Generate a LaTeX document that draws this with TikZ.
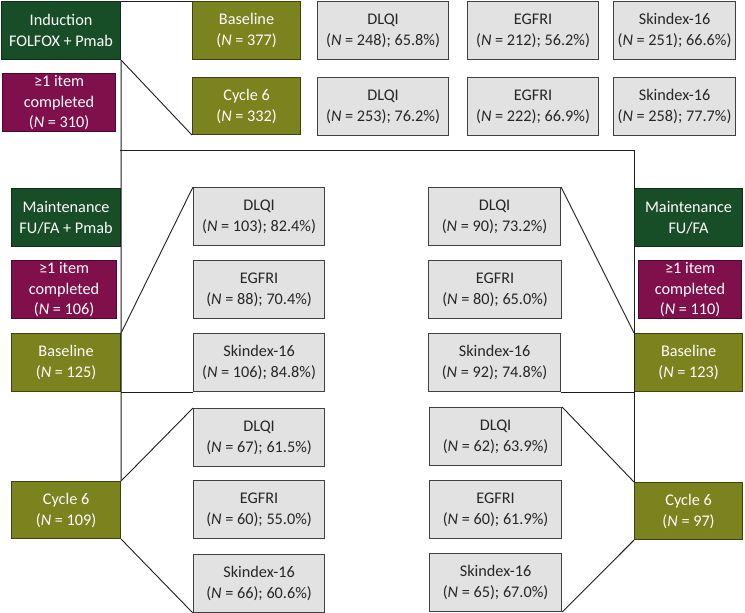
\documentclass[tikz,border=0pt]{standalone}
\usepackage{fontspec}
\setmainfont{Carlito}
\usepackage{tikz}
\usepackage{xcolor}
\usetikzlibrary{positioning, calc}
\definecolor{armgreen}{RGB}{24,78,39}
\definecolor{itempurple}{RGB}{128,16,76}
\definecolor{timeolive}{RGB}{122,131,30}
\definecolor{qgrey}{RGB}{226,226,226}
\definecolor{qborder}{RGB}{64,64,64}
\definecolor{qtext}{RGB}{38,38,38}
\definecolor{linecol}{RGB}{30,30,30}
\tikzset{
  basebox/.style={rectangle,draw,line width=1.1bp,anchor=north west,inner sep=0pt,align=center,
    font=\fontsize{16.3}{21}\selectfont,minimum height=58bp},
  armnode/.style={basebox,fill=armgreen,draw=armgreen!60!black,text=white},
  itemnode/.style={basebox,fill=itempurple,draw=itempurple!60!black,text=white,minimum width=105bp},
  timenode/.style={basebox,fill=timeolive,draw=timeolive!50!black,text=white},
  qnode/.style={basebox,fill=qgrey,draw=qborder,text=qtext,minimum width=131bp},
  zoomline/.style={linecol,line width=0.9bp},
}
\newcommand{\nn}[1]{(\textit{N}~=~#1)}

\begin{document}
\begin{tikzpicture}[x=1bp,y=-1bp]
  \useasboundingbox (0,0) rectangle (745,613);
  % Induction phase
  \node[armnode,minimum width=119bp,minimum height=58bp] (ind) at (1,1) {Induction\\FOLFOX + Pmab};
  \node[itemnode,minimum width=113bp] (itemI) at (2,73) {≥1 item\\completed\\\nn{310}};
  \node[timenode,minimum width=108bp] (baseI) at (192,1) {Baseline\\\nn{377}};
  \node[timenode,minimum width=108bp,minimum height=57bp] (cycI) at (192,77) {Cycle 6\\\nn{332}};
  \node[qnode] (dlqiIa) at (317,1) {DLQI\\\nn{248}; 65.8\%)};
  \node[qnode] (egfrIa) at (467,1) {EGFRI\\\nn{212}; 56.2\%)};
  \node[qnode,minimum width=122bp] (skinIa) at (613,1) {Skindex-16\\\nn{251}; 66.6\%)};
  \node[qnode] (dlqiIb) at (317,77) {DLQI\\\nn{253}; 76.2\%)};
  \node[qnode] (egfrIb) at (467,77) {EGFRI\\\nn{222}; 66.9\%)};
  \node[qnode,minimum width=122bp] (skinIb) at (613,77) {Skindex-16\\\nn{258}; 77.7\%)};
  % Maintenance FU/FA + Pmab
  \node[armnode,minimum width=109bp] (armL) at (11,188) {Maintenance\\FU/FA + Pmab};
  \node[itemnode] (itemL) at (11,260) {≥1 item\\completed\\\nn{106}};
  \node[timenode,minimum width=109bp] (baseL) at (11,333) {Baseline\\\nn{125}};
  \node[timenode,minimum width=109bp,minimum height=57bp] (cycL) at (11,481) {Cycle 6\\\nn{109}};
  \node[qnode] (dlqiLa) at (193,187) {DLQI\\\nn{103}; 82.4\%)};
  \node[qnode] (egfrLa) at (193,260) {EGFRI\\\nn{88}; 70.4\%)};
  \node[qnode] (skinLa) at (193,333) {Skindex-16\\\nn{106}; 84.8\%)};
  \node[qnode] (dlqiLb) at (193,408) {DLQI\\\nn{67}; 61.5\%)};
  \node[qnode] (egfrLb) at (193,480) {EGFRI\\\nn{60}; 55.0\%)};
  \node[qnode] (skinLb) at (193,554) {Skindex-16\\\nn{66}; 60.6\%)};
  % Maintenance FU/FA
  \node[armnode,minimum width=108bp] (armR) at (634,188) {Maintenance\\FU/FA};
  \node[itemnode,minimum width=103bp] (itemR) at (638,260) {≥1 item\\completed\\\nn{110}};
  \node[timenode,minimum width=108bp] (baseR) at (634,333) {Baseline\\\nn{123}};
  \node[timenode,minimum width=108bp,minimum height=57bp] (cycR) at (634,482) {Cycle 6\\\nn{97}};
  \node[qnode,minimum width=132bp] (dlqiRa) at (428,187) {DLQI\\\nn{90}; 73.2\%)};
  \node[qnode,minimum width=133bp] (egfrRa) at (428,260) {EGFRI\\\nn{80}; 65.0\%)};
  \node[qnode,minimum width=132bp] (skinRa) at (428,333) {Skindex-16\\\nn{92}; 74.8\%)};
  \node[qnode,minimum width=132bp] (dlqiRb) at (429,407) {DLQI\\\nn{62}; 63.9\%)};
  \node[qnode,minimum width=132bp] (egfrRb) at (429,480) {EGFRI\\\nn{60}; 61.9\%)};
  \node[qnode,minimum width=132bp] (skinRb) at (429,553) {Skindex-16\\\nn{65}; 67.0\%)};
  % zoom lines
  \coordinate (split) at (120,150);
  \draw[zoomline] (ind.north east) -- (baseI.north west);
  \draw[zoomline] (ind.south east) -- (cycI.south west);
  \draw[zoomline] (ind.south east) -- (cycL.north east);
  \draw[zoomline] (split) -| (cycR.north west);
  \draw[zoomline] (baseL.north east) -- (dlqiLa.north west);
  \draw[zoomline] (baseL.south east) -- (skinLa.south west);
  \draw[zoomline] (dlqiRa.north east) -- (baseR.north west);
  \draw[zoomline] (skinRa.south east) -- (baseR.south west);
  \draw[zoomline] (cycL.north east) -- (dlqiLb.north west);
  \draw[zoomline] (cycL.south east) -- (skinLb.south west);
  \draw[zoomline] (dlqiRb.north east) -- (cycR.north west);
  \draw[zoomline] (skinRb.south east) -- (cycR.south west);
\end{tikzpicture}
\end{document}
